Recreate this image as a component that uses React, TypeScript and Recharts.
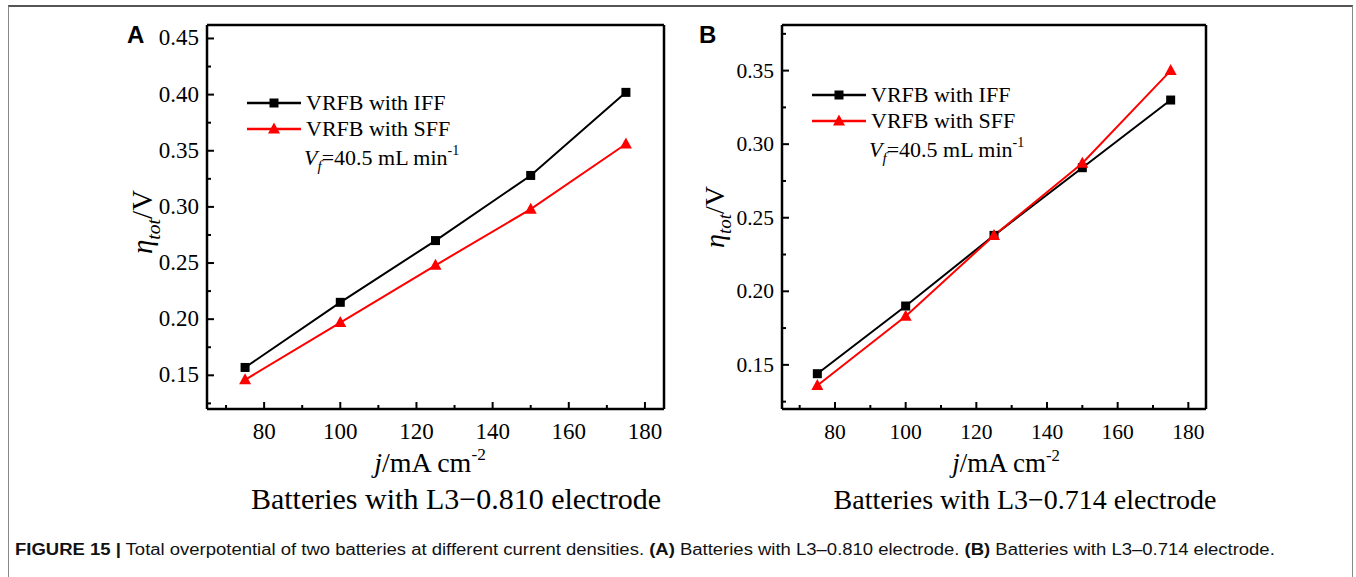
import React from 'react';
import { LineChart, Line, XAxis, YAxis, Label } from 'recharts';

const currentDensity = [75, 100, 125, 150, 175];
const panelA_IFF = [0.157, 0.215, 0.27, 0.328, 0.402];
const panelA_SFF = [0.146, 0.197, 0.248, 0.298, 0.356];
const panelB_IFF = [0.144, 0.19, 0.238, 0.284, 0.33];
const panelB_SFF = [0.136, 0.183, 0.238, 0.287, 0.35];

const xMajorTicks = [80, 100, 120, 140, 160, 180];
const xMinorTicks = [70, 90, 110, 130, 150, 170];
const yMajorTicksA = [0.15, 0.2, 0.25, 0.3, 0.35, 0.4, 0.45];
const yMinorTicksA = [0.125, 0.175, 0.225, 0.275, 0.325, 0.375, 0.425];
const yMajorTicksB = [0.15, 0.2, 0.25, 0.3, 0.35];
const yMinorTicksB = [0.125, 0.175, 0.225, 0.275, 0.325, 0.375];

const seriesNames = ['VRFB with IFF', 'VRFB with SFF'];
const panelTitles = ['Batteries with L3\u22120.810 electrode', 'Batteries with L3\u22120.714 electrode'];

const SERIF = '"Liberation Serif", "Times New Roman", serif';
const SANS = '"Liberation Sans", Arial, sans-serif';

const buildRows = (iff: number[], sff: number[]) =>
  currentDensity.map((x, i) => ({ x, iff: iff[i], sff: sff[i] }));

const SquareDot = (p: any) => {
  const { cx, cy } = p;
  if (cx == null || cy == null) return null;
  return <rect x={cx - 4.5} y={cy - 4.5} width={9} height={9} fill="#000" />;
};
const TriDot = (p: any) => {
  const { cx, cy } = p;
  if (cx == null || cy == null) return null;
  return <polygon points={`${cx},${cy - 6.5} ${cx - 6},${cy + 4.5} ${cx + 6},${cy + 4.5}`} fill="#ff0000" />;
};

const makeXTick = (fs: number) => (props: any) => {
  const { x, y, payload } = props;
  const v = payload.value;
  const major = xMajorTicks.includes(v);
  return (
    <g>
      <line x1={x} x2={x} y1={y} y2={y - (major ? 7 : 4)} stroke="#000" strokeWidth={2} />
      {major && (
        <text x={x} y={y + 30} textAnchor="middle" fontFamily={SERIF} fontSize={fs} fill="#000">
          {v}
        </text>
      )}
    </g>
  );
};

const makeYTick = (majors: number[], fs: number) => (props: any) => {
  const { x, y, payload } = props;
  const v = payload.value;
  const major = majors.includes(v);
  return (
    <g>
      <line x1={x} x2={x + (major ? 7 : 4)} y1={y} y2={y} stroke="#000" strokeWidth={2} />
      {major && (
        <text x={x - 8} y={y + 7} textAnchor="end" fontFamily={SERIF} fontSize={fs} fill="#000">
          {v.toFixed(2)}
        </text>
      )}
    </g>
  );
};

const YTitle = ({ cx, cy, fs }: { cx: number; cy: number; fs: number }) => (
  <text transform={`translate(${cx},${cy}) rotate(-90)`} textAnchor="middle" fontFamily={SERIF} fontSize={fs} fill="#000">
    <tspan fontStyle="italic">η</tspan>
    <tspan fontStyle="italic" fontSize={fs * 0.68} dy={fs * 0.26}>tot</tspan>
    <tspan dy={-fs * 0.26}>/V</tspan>
  </text>
);

const XTitle = ({ cx, cy, fs }: { cx: number; cy: number; fs: number }) => (
  <text x={cx} y={cy} textAnchor="middle" fontFamily={SERIF} fontSize={fs} fill="#000">
    <tspan fontStyle="italic">j</tspan>
    <tspan>/mA cm</tspan>
    <tspan fontSize={fs * 0.62} dy={-fs * 0.42}>-2</tspan>
  </text>
);

type PanelProps = {
  left: number;
  width: number;
  plotLeft: number;
  plotRight: number;
  iff: number[];
  sff: number[];
  yDomain: [number, number];
  yMajors: number[];
  yMinors: number[];
  yTitleX: number;
  yTitleY: number;
  xTitleX: number;
  tickFs: number;
  titleFs: number;
};

const Panel = (p: PanelProps) => {
  const rows = buildRows(p.iff, p.sff);
  const YTick = makeYTick(p.yMajors, p.tickFs);
  const XTick = makeXTick(p.tickFs);
  const yTicks = [...p.yMinors, ...p.yMajors].sort((a, b) => a - b);
  const xTicks = [...xMinorTicks, ...xMajorTicks].sort((a, b) => a - b);
  const H = 577;
  const mLeft = p.plotLeft - p.left - 1;
  const mRight = p.left + p.width - p.plotRight - 1;
  return (
    <div style={{ position: 'absolute', left: p.left, top: 0 }}>
      <LineChart width={p.width} height={H} data={rows} margin={{ top: 24, left: mLeft, right: mRight, bottom: H - 410 }}>
        <XAxis
          dataKey="x"
          type="number"
          domain={[65, 185]}
          allowDataOverflow
          ticks={xTicks}
          interval={0}
          height={1}
          tickSize={0}
          tickMargin={0}
          tickLine={false}
          axisLine={{ stroke: '#000', strokeWidth: 2.5 }}
          tick={<XTick />}
        >
          <Label content={() => <XTitle cx={p.xTitleX - p.left} cy={472} fs={p.titleFs} />} />
        </XAxis>
        <XAxis
          xAxisId="top"
          orientation="top"
          dataKey="x"
          type="number"
          domain={[65, 185]}
          allowDataOverflow
          height={1}
          tick={false}
          tickLine={false}
          axisLine={{ stroke: '#000', strokeWidth: 2.5 }}
        />
        <YAxis
          type="number"
          domain={p.yDomain}
          allowDataOverflow
          ticks={yTicks}
          interval={0}
          width={1}
          tickSize={0}
          tickMargin={0}
          tickLine={false}
          axisLine={{ stroke: '#000', strokeWidth: 2.5 }}
          tick={<YTick />}
        >
          <Label content={() => <YTitle cx={p.yTitleX - p.left} cy={p.yTitleY} fs={p.titleFs + 1} />} />
        </YAxis>
        <YAxis
          yAxisId="right"
          orientation="right"
          type="number"
          domain={p.yDomain}
          allowDataOverflow
          width={1}
          tick={false}
          tickLine={false}
          axisLine={{ stroke: '#000', strokeWidth: 2.5 }}
        />
        <Line
          dataKey="iff"
          name={seriesNames[0]}
          stroke="#000"
          strokeWidth={2}
          dot={(d: any) => <SquareDot key={`s${d.index}`} {...d} />}
          isAnimationActive={false}
        />
        <Line
          dataKey="sff"
          name={seriesNames[1]}
          stroke="#ff0000"
          strokeWidth={2}
          dot={(d: any) => <TriDot key={`t${d.index}`} {...d} />}
          isAnimationActive={false}
        />
      </LineChart>
    </div>
  );
};

const LegendSymbol = ({ color, shape }: { color: string; shape: 'square' | 'triangle' }) => (
  <svg width={54} height={20} style={{ display: 'block' }}>
    <line x1={0} x2={54} y1={10} y2={10} stroke={color} strokeWidth={2.5} />
    {shape === 'square' ? (
      <rect x={22.5} y={5.5} width={9} height={9} fill={color} />
    ) : (
      <polygon points="27,3.5 21,14.5 33,14.5" fill={color} />
    )}
  </svg>
);

const LegendBlock = ({ left, top, gap }: { left: number; top: number; gap: number }) => (
  <div style={{ position: 'absolute', left, top, fontFamily: SERIF, fontSize: 22, color: '#000', lineHeight: `${gap}px` }}>
    <div style={{ display: 'flex', alignItems: 'center' }}>
      <LegendSymbol color="#000" shape="square" />
      <span style={{ marginLeft: 5 }}>{seriesNames[0]}</span>
    </div>
    <div style={{ display: 'flex', alignItems: 'center' }}>
      <LegendSymbol color="#ff0000" shape="triangle" />
      <span style={{ marginLeft: 5 }}>{seriesNames[1]}</span>
    </div>
    <div style={{ marginLeft: 57, whiteSpace: 'nowrap', marginTop: -2 }}>
      <i>V</i>
      <i style={{ fontSize: 15, position: 'relative', top: 6 }}>f</i>=40.5 mL min
      <sup style={{ fontSize: 14, position: 'relative', top: -2 }}>-1</sup>
    </div>
  </div>
);

export default function App() {
  return (
    <div style={{ position: 'absolute', left: 0, top: 0, width: 1356, height: 577, background: '#fff', overflow: 'hidden' }}>
      <div
        style={{
          position: 'absolute',
          left: 8,
          top: 5,
          width: 1343,
          height: 600,
          borderTop: '2px solid #555',
          borderLeft: '1px solid #888',
          borderRight: '1px solid #888',
        }}
      />
      <Panel
        left={0}
        width={700}
        plotLeft={207}
        plotRight={664}
        iff={panelA_IFF}
        sff={panelA_SFF}
        yDomain={[0.12, 0.462]}
        yMajors={yMajorTicksA}
        yMinors={yMinorTicksA}
        yTitleX={152}
        yTitleY={222}
        xTitleX={430}
        tickFs={23}
        titleFs={28}
      />
      <Panel
        left={690}
        width={666}
        plotLeft={782}
        plotRight={1206}
        iff={panelB_IFF}
        sff={panelB_SFF}
        yDomain={[0.12, 0.381]}
        yMajors={yMajorTicksB}
        yMinors={yMinorTicksB}
        yTitleX={724}
        yTitleY={217}
        xTitleX={1006}
        tickFs={21.5}
        titleFs={27}
      />
      <div style={{ position: 'absolute', left: 127, top: 21, fontFamily: SANS, fontWeight: 'bold', fontSize: 24 }}>A</div>
      <div style={{ position: 'absolute', left: 699, top: 21, fontFamily: SANS, fontWeight: 'bold', fontSize: 24 }}>B</div>
      <LegendBlock left={247} top={90} gap={26} />
      <LegendBlock left={812} top={82} gap={26} />
      <div style={{ position: 'absolute', left: 236, top: 482, width: 440, textAlign: 'center', fontFamily: SERIF, fontSize: 30, whiteSpace: 'nowrap' }}>
        {panelTitles[0]}
      </div>
      <div style={{ position: 'absolute', left: 805, top: 484, width: 440, textAlign: 'center', fontFamily: SERIF, fontSize: 28, whiteSpace: 'nowrap' }}>
        {panelTitles[1]}
      </div>
      <div
        style={{
          position: 'absolute',
          left: 15,
          top: 541,
          fontFamily: SANS,
          fontSize: 16,
          whiteSpace: 'nowrap',
          color: '#111',
          transform: 'scaleX(1.155)',
          transformOrigin: 'left top',
        }}
      >
        <b>FIGURE 15 |</b> Total overpotential of two batteries at different current densities. <b>(A)</b> Batteries with L3–0.810
        electrode. <b>(B)</b> Batteries with L3–0.714 electrode.
      </div>
    </div>
  );
}
